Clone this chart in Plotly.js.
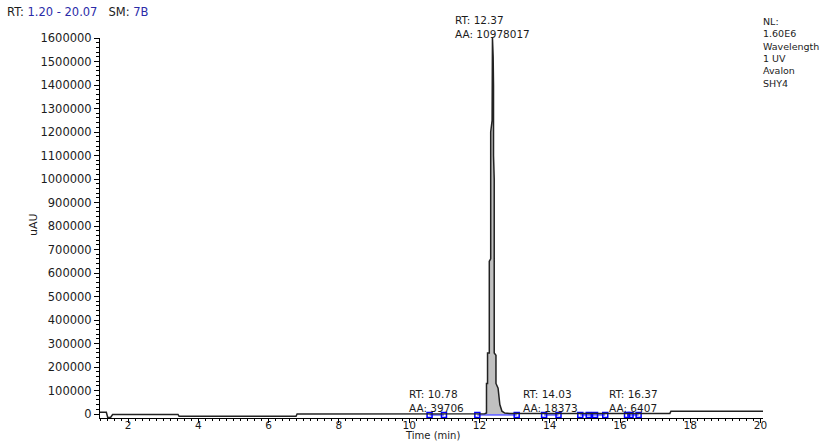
<!DOCTYPE html>
<html>
<head>
<meta charset="utf-8">
<script src="https://cdn.plot.ly/plotly-3.0.1.min.js"></script>
<style>html,body{margin:0;padding:0;background:#fff;}#chart{width:835px;height:442px;}</style>
</head>
<body>
<div id="chart"></div>
<script>
// Chromatogram trace (time in min, signal in uAU)
const time = [1.20, 1.38, 1.42, 1.50, 1.56, 3.42, 3.45, 6.78, 6.81, 10.40, 10.70, 10.78, 10.86, 11.20, 12.15,
  12.20, 12.20, 12.23, 12.23, 12.28, 12.28, 12.32, 12.32, 12.36, 12.36, 12.37, 12.39, 12.40, 12.40, 12.42, 12.42,
  12.47, 12.47, 12.53, 12.58, 12.64, 12.72, 12.86, 13.80, 14.03, 14.20, 16.20, 16.37, 16.50, 17.42, 17.45, 20.07];
const signal = [7000, 7000, -15000, -15000, -2000, -2000, -10000, -10000, 0, 500, 1500, 3500, 1500, 1000, 1000,
  4000, 130000, 130000, 260000, 260000, 650000, 660000, 1200000, 1250000, 1500000, 1600000, 1520000, 1400000, 1100000, 1000000, 260000,
  250000, 130000, 110000, 40000, 12000, 4000, 2500, 2500, 4000, 2500, 2500, 3500, 2500, 2500, 12000, 12000];

// Integrated peaks
const peakRT = [10.78, 12.37, 14.03, 16.37];
const peakArea = [39706, 10978017, 18373, 6407];
const mainPeakStart = 12.15;
const mainPeakEnd = 12.86;

// Integration baseline markers
const markTime = [10.58, 10.99, null, 11.94, 13.06, null, 13.84, 14.25, null, 14.87, 15.11, 15.29, 15.58, null, 16.20, 16.30, 16.53];
const markLevel = [-4000, -4000, null, -4000, -4000, null, -4000, -4000, null, -4000, -4000, -4000, -4000, null, -4000, -4000, -4000];

// Header / info text
const rangeText = ['1.20 - 20.07', '7B'];
const infoLines = ['NL:', '1.60E6', 'Wavelength', '1 UV', 'Avalon', 'SHY4'];
const xTitle = 'Time (min)';
const yTitle = 'uAU';

const pkT = [], pkS = [];
time.forEach((t, i) => { if (t >= mainPeakStart && t <= mainPeakEnd) { pkT.push(t); pkS.push(signal[i]); } });

const FONT = 'DejaVu Sans, Verdana, sans-serif';
const TXT = '#1c1c1c';

const traces = [
  { x: pkT, y: pkS, type: 'scatter', mode: 'lines', fill: 'tozeroy', fillcolor: '#c0c0c0',
    line: { color: 'rgba(0,0,0,0)', width: 0 }, hoverinfo: 'skip', showlegend: false },
  { x: markTime, y: markLevel, type: 'scatter', mode: 'lines+markers', connectgaps: false,
    line: { color: '#0000ff', width: 1 },
    marker: { symbol: 'square-open', size: 5, color: '#0000ff', line: { width: 1.5, color: '#0000ff' } },
    showlegend: false },
  { x: time, y: signal, type: 'scatter', mode: 'lines', line: { color: '#222222', width: 1.5 }, showlegend: false }
];

const anns = [];
const pxToPaperY = py => (418 - py) / 380;
const pxToPaperX = px => (px - 100) / 663;
peakRT.forEach((rt, i) => {
  const main = peakArea[i] === Math.max(...peakArea);
  anns.push({ x: rt, xref: 'x', y: pxToPaperY(main ? 27 : 401), yref: 'paper', xanchor: 'center', yanchor: 'middle', showarrow: false,
    align: 'left', text: 'RT: ' + rt.toFixed(2) + '<br>AA: ' + peakArea[i], font: { family: FONT, size: 10.5, color: TXT } });
});
anns.push({ x: pxToPaperX(5), xref: 'paper', y: pxToPaperY(12), yref: 'paper', xanchor: 'left', yanchor: 'middle', showarrow: false,
  text: 'RT: <span style="color:#2b2ba8">' + rangeText[0] + '</span>   SM: <span style="color:#2b2ba8">' + rangeText[1] + '</span>',
  font: { family: FONT, size: 11.5, color: TXT } });
anns.push({ x: pxToPaperX(761), xref: 'paper', y: pxToPaperY(14), yref: 'paper', xanchor: 'left', yanchor: 'top', showarrow: false,
  align: 'left', text: infoLines.join('<br>'), font: { family: FONT, size: 9.5, color: TXT } });
anns.push({ x: pxToPaperX(432), xref: 'paper', y: pxToPaperY(435.5), yref: 'paper', xanchor: 'center', yanchor: 'middle', showarrow: false,
  borderpad: 0, text: xTitle, font: { family: FONT, size: 10, color: TXT } });
anns.push({ x: pxToPaperX(33), xref: 'paper', y: pxToPaperY(225), yref: 'paper', xanchor: 'center', yanchor: 'middle', showarrow: false,
  textangle: -90, text: yTitle, font: { family: FONT, size: 11, color: TXT } });

const layout = {
  width: 835, height: 442,
  margin: { l: 100, r: 72, t: 38, b: 24, pad: 0 },
  paper_bgcolor: '#ffffff', plot_bgcolor: '#ffffff',
  showlegend: false,
  xaxis: {
    range: [1.2, 20.07], dtick: 2, tick0: 0, showgrid: false, zeroline: false,
    showline: true, linecolor: '#000', linewidth: 1,
    ticks: 'outside', ticklen: 4, tickcolor: '#000', tickwidth: 1,
    minor: { dtick: 0.2, ticks: 'outside', ticklen: 2, tickcolor: '#000', showgrid: false },
    tickfont: { family: FONT, size: 10.5, color: TXT }, ticklabelstandoff: -7
  },
  yaxis: {
    range: [-17000, 1600000], dtick: 100000, tick0: 0, tickformat: 'd', showgrid: false, zeroline: false,
    showline: true, linecolor: '#000', linewidth: 1,
    ticks: 'outside', ticklen: 5, tickcolor: '#000', tickwidth: 1,
    minor: { dtick: 20000, ticks: 'outside', ticklen: 3, tickcolor: '#000', showgrid: false },
    tickfont: { family: FONT, size: 11.5, color: TXT }
  },
  annotations: anns
};

Plotly.newPlot('chart', traces, layout, { displayModeBar: false, staticPlot: true });
</script>
</body>
</html>
